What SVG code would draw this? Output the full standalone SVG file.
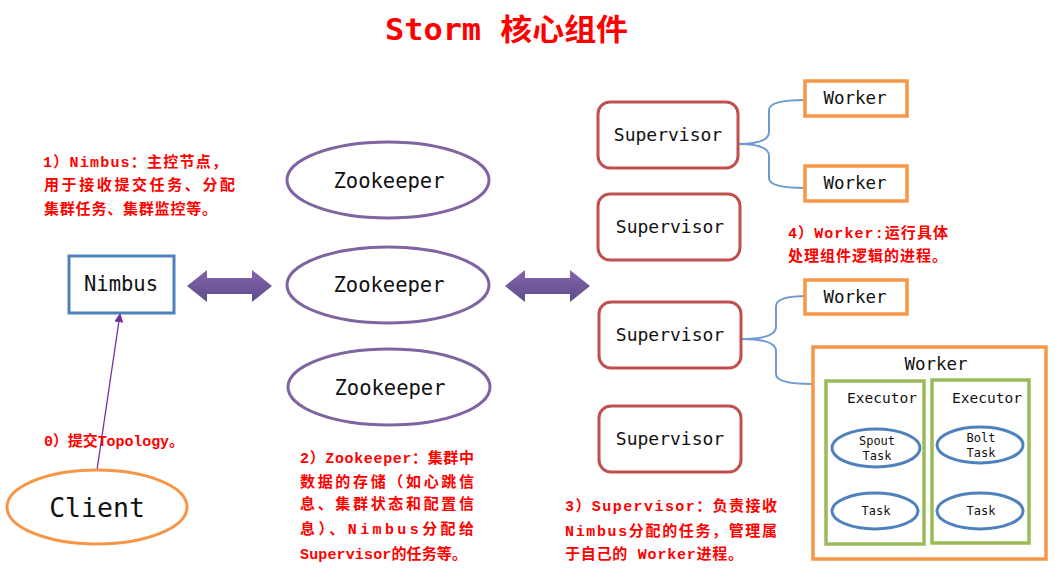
<svg xmlns="http://www.w3.org/2000/svg" width="1059" height="578" viewBox="0 0 1059 578">
<style>
.anno{font-family:"Liberation Mono","Noto Sans CJK SC",monospace;font-weight:bold;fill:#ff0000;font-size:15px}
.lbl{font-family:"DejaVu Sans Mono","Liberation Mono",monospace;fill:#111;text-anchor:middle}
.zk{fill:#fff;stroke:#8064a2;stroke-width:3}
.sup{fill:#fff;stroke:#c0504d;stroke-width:3}
.wk{fill:#fff;stroke:#f79646;stroke-width:3.5}
.ex{fill:#fff;stroke:#9bbb59;stroke-width:3.5}
.tk{fill:#fff;stroke:#4f81bd;stroke-width:3}
.br{fill:none;stroke:#6f9bd1;stroke-width:2}
.dbl{fill:url(#pg)}
</style>
<defs>
<linearGradient id="pg" x1="0" y1="0" x2="0" y2="1">
<stop offset="0" stop-color="#8366ad"/>
<stop offset="1" stop-color="#5f4b8b"/>
</linearGradient>
<marker id="ah" viewBox="0 0 10 10" refX="9" refY="5" markerWidth="7" markerHeight="7" orient="auto">
<path d="M0,0 L10,5 L0,10 Z" fill="#7030a0"/>
</marker>
</defs>
<rect width="1059" height="578" fill="#fff"/>
<text x="385" y="40" font-family="DejaVu Sans Mono,Liberation Mono,Noto Sans CJK SC,monospace" font-weight="bold" font-size="30" fill="#ff0000" textLength="243" lengthAdjust="spacingAndGlyphs">Storm 核心组件</text>

<g id="connectors">
<path class="br" d="M738,144 Q769,144 769,132 L769,110 Q769,100 805,100"/>
<path class="br" d="M738,144 Q769,144 769,156 L769,178 Q769,188 805,188"/>
<path class="br" d="M741,339 Q776,339 776,327 L776,306 Q776,296 808,296"/>
<path class="br" d="M741,339 Q776,339 776,351 L776,374 Q776,384 812,384"/>
<path class="dbl" d="M187,286 L207,270 L207,278 L252,278 L252,270 L272,286 L252,302 L252,294 L207,294 L207,302 Z"/>
<path class="dbl" d="M505,286 L525,270 L525,278 L570,278 L570,270 L590,286 L570,302 L570,294 L525,294 L525,302 Z"/>
<line x1="97" y1="470" x2="120" y2="314" stroke="#7030a0" stroke-width="1.3" marker-end="url(#ah)"/>
</g>

<g id="nimbus">
<rect x="69" y="256" width="105" height="57" fill="#fff" stroke="#4f81bd" stroke-width="3"/>
<text class="lbl" x="121" y="291" font-size="20.5">Nimbus</text>
</g>
<g id="client">
<ellipse cx="97" cy="507" rx="90" ry="37" fill="#fff" stroke="#f79646" stroke-width="3"/>
<text class="lbl" x="97" y="517" font-size="26.5">Client</text>
</g>

<g id="zookeeper1">
<ellipse class="zk" cx="388" cy="180" rx="101" ry="38"/>
<text class="lbl" x="389" y="188" font-size="20.5">Zookeeper</text>
</g>
<g id="zookeeper2">
<ellipse class="zk" cx="388" cy="285" rx="101" ry="38"/>
<text class="lbl" x="389" y="292" font-size="20.5">Zookeeper</text>
</g>
<g id="zookeeper3">
<ellipse class="zk" cx="389" cy="387" rx="101" ry="38"/>
<text class="lbl" x="390" y="395" font-size="20.5">Zookeeper</text>
</g>

<g id="supervisor1">
<rect class="sup" x="598" y="102" width="140" height="66" rx="12"/>
<text class="lbl" x="668" y="141" font-size="18">Supervisor</text>
</g>
<g id="supervisor2">
<rect class="sup" x="598" y="194" width="142" height="66" rx="12"/>
<text class="lbl" x="670" y="233" font-size="18">Supervisor</text>
</g>
<g id="supervisor3">
<rect class="sup" x="599" y="302" width="142" height="66" rx="12"/>
<text class="lbl" x="670" y="341" font-size="18">Supervisor</text>
</g>
<g id="supervisor4">
<rect class="sup" x="599" y="406" width="142" height="66" rx="12"/>
<text class="lbl" x="670" y="445" font-size="18">Supervisor</text>
</g>

<g id="worker1">
<rect class="wk" x="805" y="81" width="102" height="35"/>
<text class="lbl" x="855" y="104" font-size="17.5">Worker</text>
</g>
<g id="worker2">
<rect class="wk" x="805" y="166" width="102" height="35"/>
<text class="lbl" x="855" y="189" font-size="17.5">Worker</text>
</g>
<g id="worker3">
<rect class="wk" x="805" y="280" width="102" height="34"/>
<text class="lbl" x="855" y="303" font-size="17.5">Worker</text>
</g>
<g id="worker4">
<rect class="wk" x="813" y="347" width="233" height="212"/>
<text class="lbl" x="936" y="370" font-size="17.5">Worker</text>
<rect class="ex" x="826" y="381" width="98" height="163"/>
<text class="lbl" x="882" y="403" font-size="14.5">Executor</text>
<rect class="ex" x="932" y="380" width="97" height="163"/>
<text class="lbl" x="987" y="403" font-size="14.5">Executor</text>
<ellipse class="tk" cx="876" cy="448" rx="44" ry="19"/>
<text class="lbl" x="877" y="445" font-size="12">Spout</text>
<text class="lbl" x="877" y="460" font-size="12">Task</text>
<ellipse class="tk" cx="980" cy="445" rx="43" ry="18"/>
<text class="lbl" x="981" y="442" font-size="12">Bolt</text>
<text class="lbl" x="981" y="457" font-size="12">Task</text>
<ellipse class="tk" cx="875" cy="511" rx="43" ry="18"/>
<text class="lbl" x="876" y="515" font-size="12">Task</text>
<ellipse class="tk" cx="980" cy="511" rx="43" ry="18"/>
<text class="lbl" x="981" y="515" font-size="12">Task</text>
</g>

<g id="annotations">
<text class="anno" x="43" y="167" textLength="184" lengthAdjust="spacing">1）Nimbus：主控节点，</text>
<text class="anno" x="44" y="190" textLength="191" lengthAdjust="spacing">用于接收提交任务、分配</text>
<text class="anno" x="44" y="214" textLength="173" lengthAdjust="spacing">集群任务、集群监控等。</text>
<text class="anno" x="44" y="446" textLength="140" lengthAdjust="spacing">0）提交Topology。</text>
<text class="anno" x="300" y="463" textLength="174" lengthAdjust="spacing">2）Zookeeper：集群中</text>
<text class="anno" x="300" y="487" textLength="174" lengthAdjust="spacing">数据的存储（如心跳信</text>
<text class="anno" x="300" y="509" textLength="174" lengthAdjust="spacing">息、集群状态和配置信</text>
<text class="anno" x="300" y="534" textLength="174" lengthAdjust="spacing">息）、Nimbus分配给</text>
<text class="anno" x="300" y="559" textLength="167" lengthAdjust="spacing">Supervisor的任务等。</text>
<text class="anno" x="565" y="511" textLength="212" lengthAdjust="spacing">3）Supervisor：负责接收</text>
<text class="anno" x="565" y="536" textLength="212" lengthAdjust="spacing">Nimbus分配的任务，管理属</text>
<text class="anno" x="565" y="559" textLength="178" lengthAdjust="spacing">于自己的 Worker进程。</text>
<text class="anno" x="788" y="238" textLength="160" lengthAdjust="spacing">4）Worker:运行具体</text>
<text class="anno" x="788" y="261" textLength="159" lengthAdjust="spacing">处理组件逻辑的进程。</text>
</g>
</svg>
